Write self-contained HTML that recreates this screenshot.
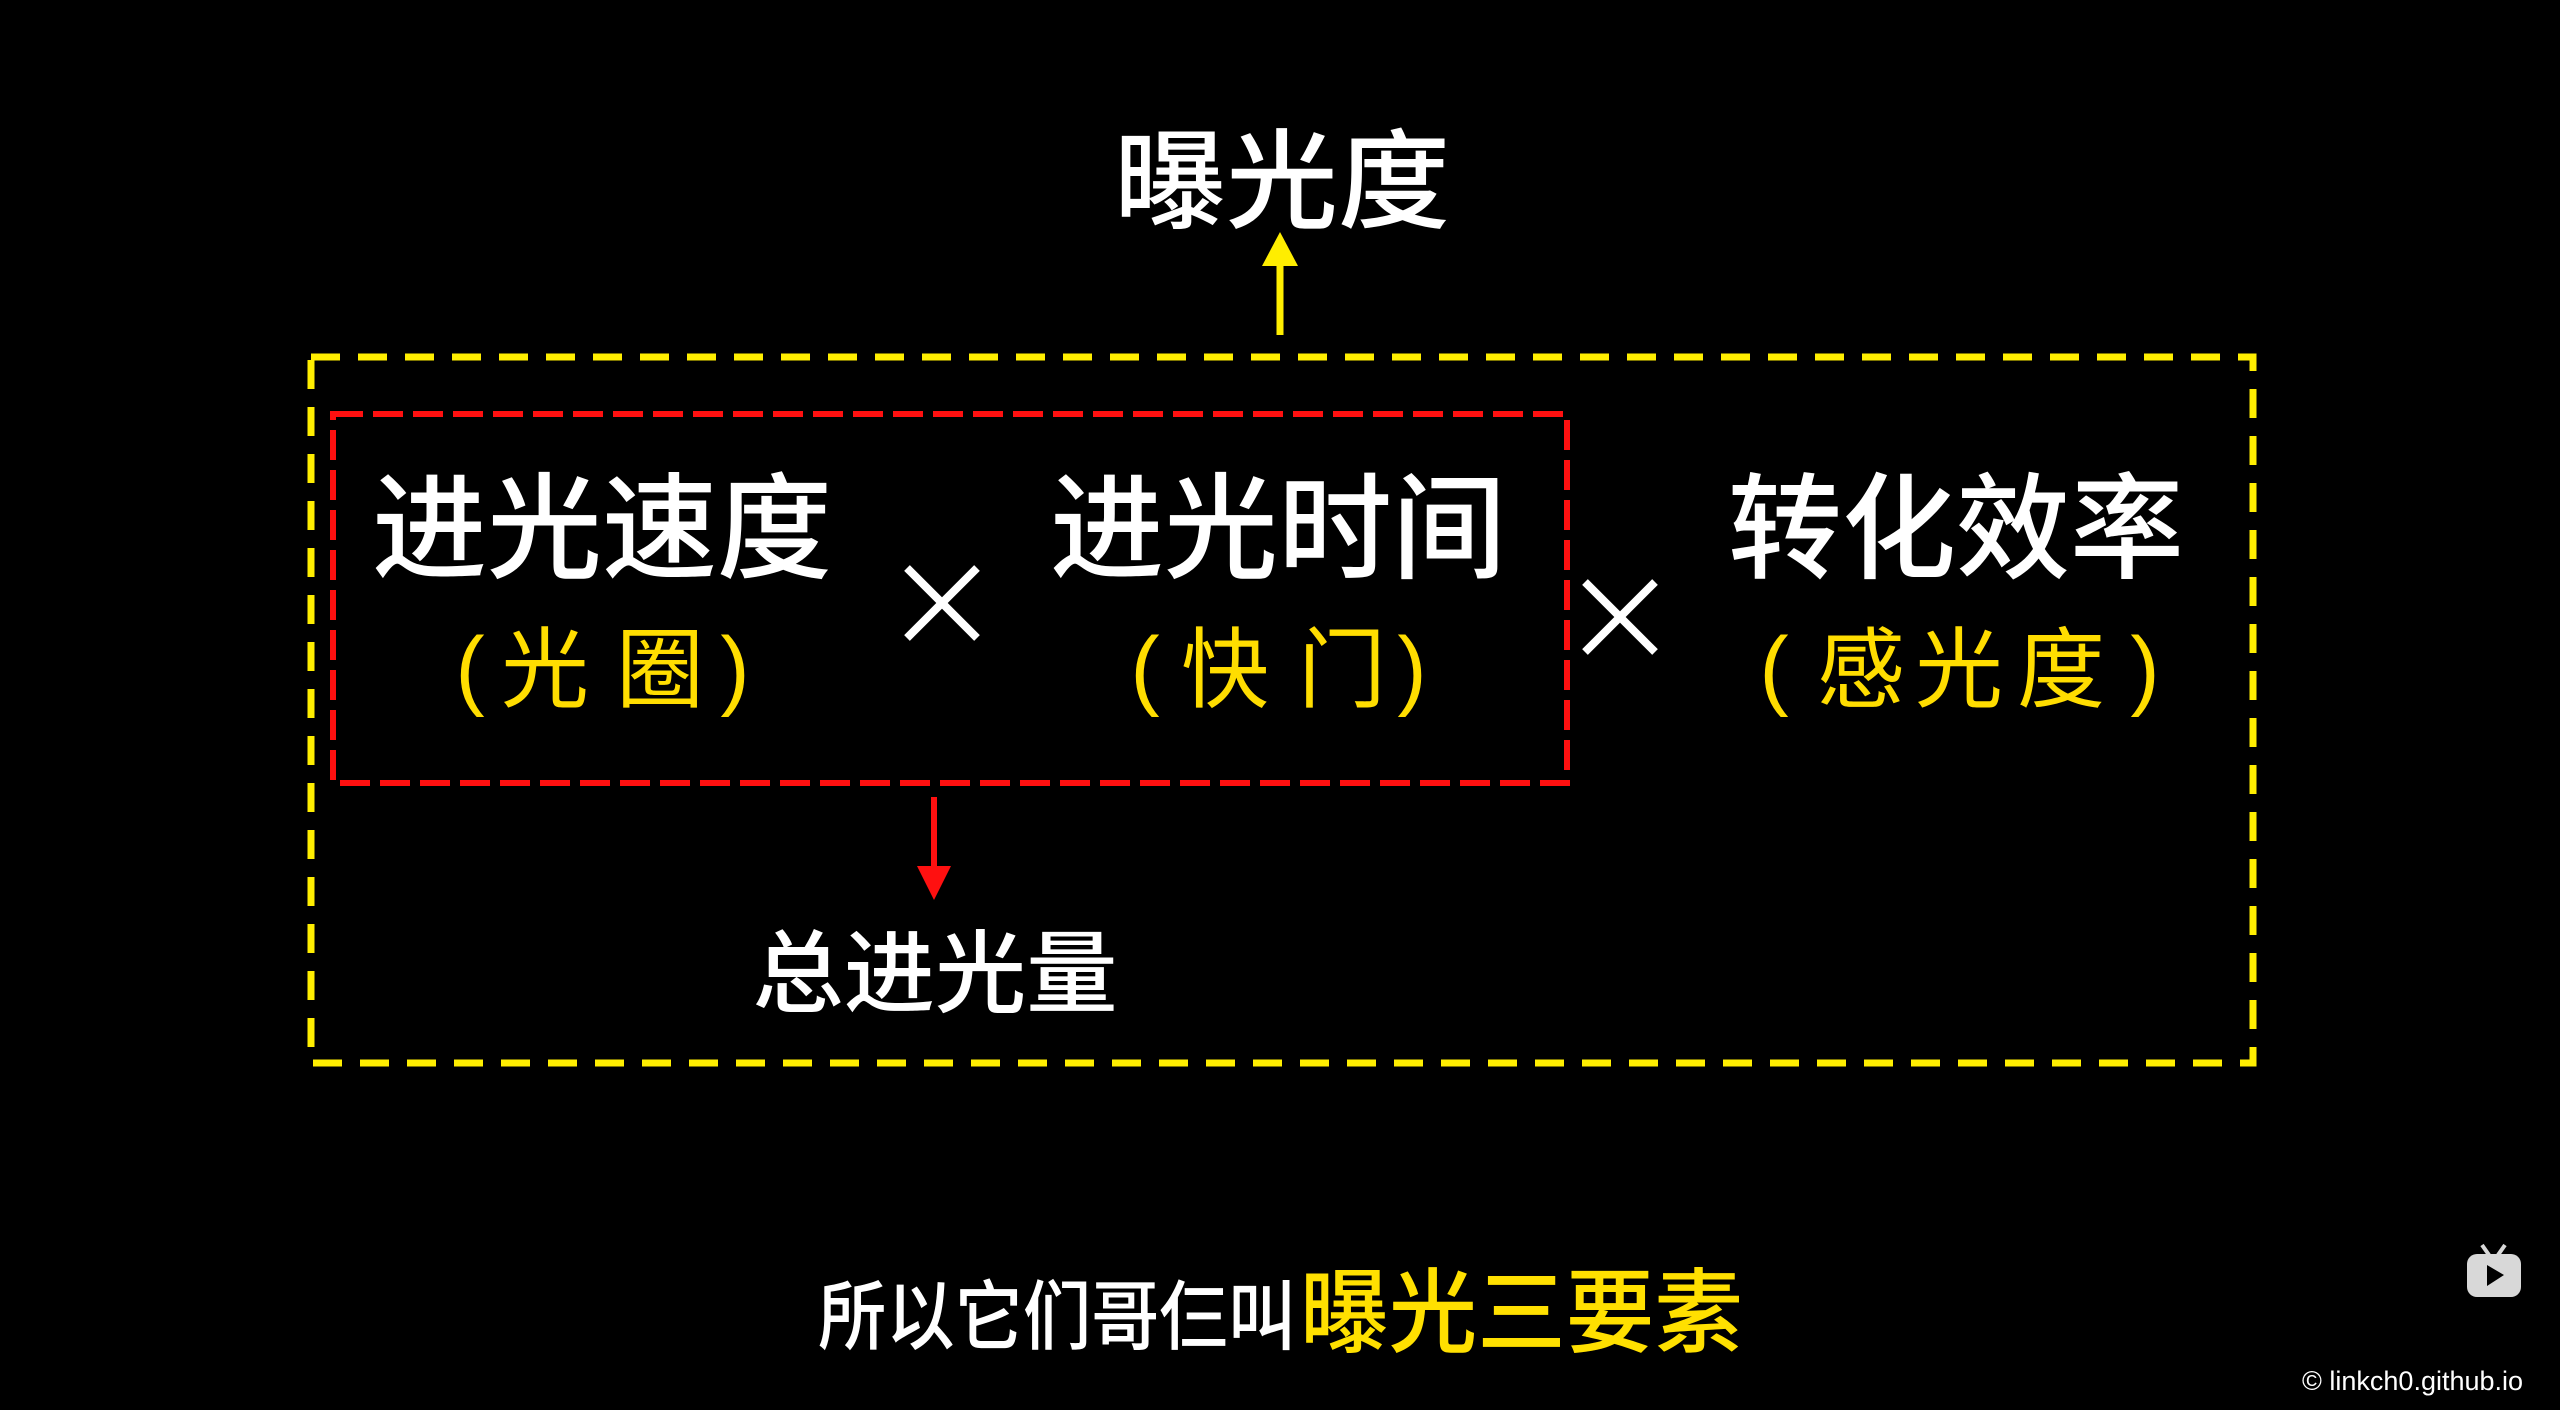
<!DOCTYPE html>
<html><head><meta charset="utf-8"><style>
html,body{margin:0;padding:0;background:#000;width:2560px;height:1410px;overflow:hidden}
svg{display:block}
text{font-family:"Liberation Sans","Noto Sans CJK SC",sans-serif}
</style></head><body>
<svg width="2560" height="1410" viewBox="0 0 2560 1410" xmlns="http://www.w3.org/2000/svg">
<rect width="2560" height="1410" fill="#000"/>
<text x="1282" y="182" fill="#fff" font-size="108" font-weight="500" text-anchor="middle" dominant-baseline="central" textLength="336" lengthAdjust="spacingAndGlyphs">曝光度</text>
<line x1="1280" y1="335" x2="1280" y2="262" stroke="#ffee00" stroke-width="7"/>
<polygon points="1262,266 1298,266 1280,232" fill="#ffee00"/>
<rect x="311" y="357" width="1942" height="706" fill="none" stroke="#ffee00" stroke-width="7" stroke-dasharray="29 18"/>
<rect x="333" y="414" width="1234" height="369" fill="none" stroke="#ff1010" stroke-width="6" stroke-dasharray="30 10"/>
<g fill="#fff" font-size="115" font-weight="500" text-anchor="middle" dominant-baseline="central">
<text x="602" y="530" textLength="460" lengthAdjust="spacingAndGlyphs">进光速度</text>
<text x="1278" y="530" textLength="456" lengthAdjust="spacingAndGlyphs">进光时间</text>
<text x="1956" y="530" textLength="456" lengthAdjust="spacingAndGlyphs">转化效率</text>
</g>
<g fill="#ffdd00" font-size="88" font-weight="normal" text-anchor="middle" dominant-baseline="central">
<text x="470" y="668">(</text><text x="545" y="670">光</text><text x="660" y="670">圈</text><text x="735" y="668">)</text>
<text x="1145" y="668">(</text><text x="1225" y="670">快</text><text x="1342" y="670">门</text><text x="1412" y="668">)</text>
<text x="1774" y="668">(</text><text x="1861" y="670">感</text><text x="1959" y="670">光</text><text x="2061" y="670">度</text><text x="2145" y="668">)</text>
</g>
<g stroke="#fff" stroke-width="8">
<line x1="907" y1="568" x2="977" y2="638"/><line x1="977" y1="568" x2="907" y2="638"/>
<line x1="1585" y1="582" x2="1655" y2="652"/><line x1="1655" y1="582" x2="1585" y2="652"/>
</g>
<line x1="934" y1="797" x2="934" y2="870" stroke="#ff1010" stroke-width="6"/>
<polygon points="917,866 951,866 934,900" fill="#ff1010"/>
<text x="935" y="975" fill="#fff" font-size="90" font-weight="500" text-anchor="middle" dominant-baseline="central" textLength="365" lengthAdjust="spacingAndGlyphs">总进光量</text>
<text x="818" y="1318" fill="#fff" font-size="76" font-weight="500" dominant-baseline="central" textLength="478" lengthAdjust="spacingAndGlyphs">所以它们哥仨叫</text>
<text x="1300" y="1314" fill="#ffe000" font-size="92" font-weight="500" dominant-baseline="central" textLength="443" lengthAdjust="spacingAndGlyphs">曝光三要素</text>
<g fill="#d8d8d8">
<rect x="2467" y="1254" width="54" height="43" rx="10"/>
<line x1="2482" y1="1245" x2="2489" y2="1255" stroke="#d8d8d8" stroke-width="4"/>
<line x1="2505" y1="1245" x2="2498" y2="1255" stroke="#d8d8d8" stroke-width="4"/>
</g>
<polygon points="2487,1265 2487,1286 2504,1275" fill="#000"/>
<text x="2302" y="1381" fill="#fff" font-size="27" dominant-baseline="central">© linkch0.github.io</text>
</svg>
</body></html>
